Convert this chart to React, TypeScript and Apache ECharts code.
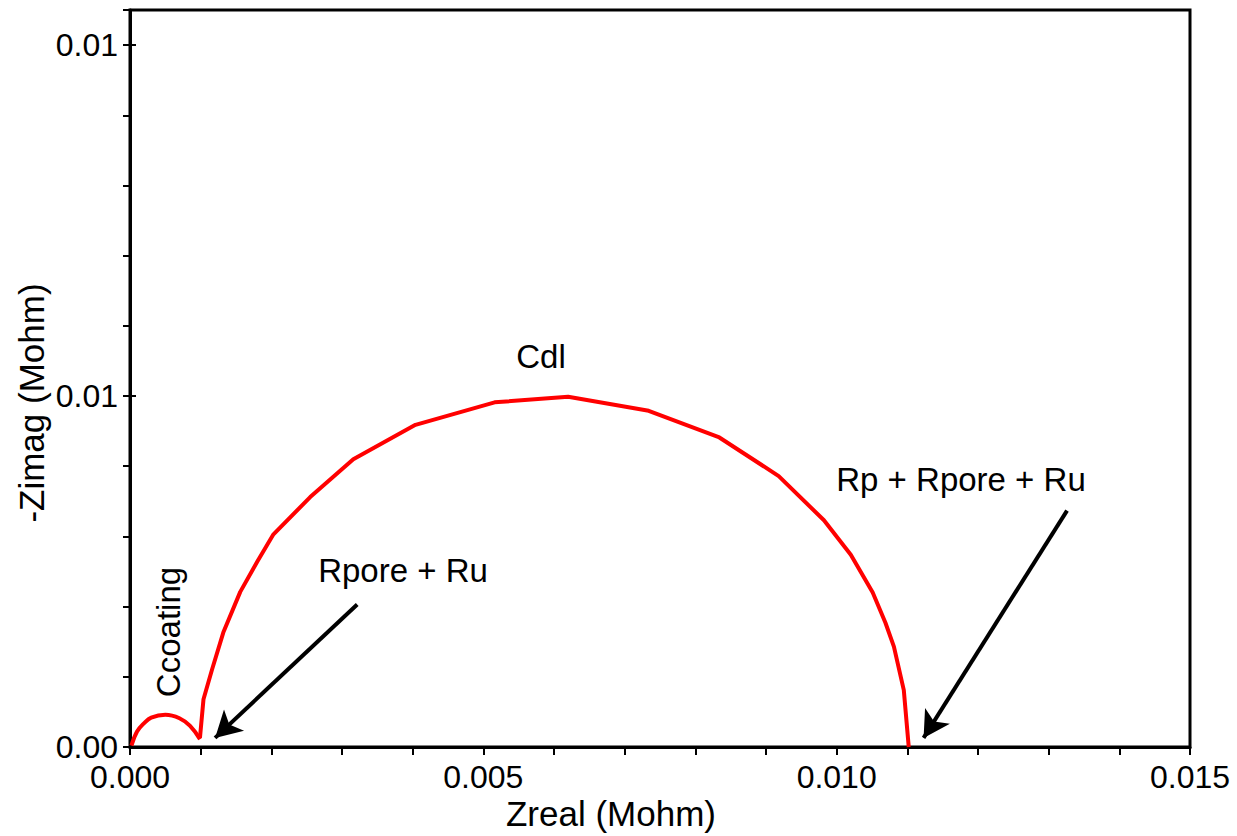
import React, { useEffect, useRef } from "react";
import * as echarts from "echarts";

// Small "Ccoating" arc
const coatZreal = [0.00002, 0.0001, 0.0002, 0.0003, 0.0005, 0.0007, 0.00085, 0.00099];
const coatZimag = [0.00002, 0.00022, 0.00034, 0.00042, 0.00046, 0.00041, 0.0003, 0.00011];

// Large "Cdl" arc
const cdlZreal = [0.00099, 0.00104, 0.00116, 0.00132, 0.00156, 0.0018, 0.00203, 0.00255, 0.00316, 0.00404, 0.00516, 0.0062, 0.00734, 0.00834, 0.00918, 0.00982, 0.0102, 0.01051, 0.01069, 0.01081, 0.01095, 0.01102];
const cdlZimag = [0.00013, 0.00068, 0.0011, 0.00163, 0.00221, 0.00264, 0.00303, 0.00356, 0.0041, 0.00459, 0.00491, 0.00499, 0.00479, 0.00441, 0.00386, 0.00323, 0.00274, 0.0022, 0.00177, 0.00143, 0.00081, 0.0];

// Arrows: [startX, startY, tipX, tipY] in data units
const arrowPoreRu = [0.003215, 0.00203, 0.001204, 0.00013];
const arrowRpPoreRu = [0.01326, 0.003367, 0.01123, 0.00013];

const xMin = 0;
const xMax = 0.015;
const xInterval = 0.005;
const yMin = 0;
const yMax = 0.0105;
const yInterval = 0.005;
const yMinorInterval = 0.001;

const FONT = "Liberation Sans, Arial, sans-serif";

export default function App() {
  const ref = useRef<HTMLDivElement>(null);
  useEffect(() => {
    if (!ref.current) return;
    const chart = echarts.init(ref.current, null, { renderer: "svg" });
    const pair = (xs: number[], ys: number[]) => xs.map((x, i) => [x, ys[i]]);
    const arrowLine = (a: number[]) => [{ coord: [a[0], a[1]] }, { coord: [a[2], a[3]] }];
    const textBase = { fill: "#000", font: `33px ${FONT}`, textAlign: "center", textVerticalAlign: "middle" };
    const titleBase = { ...textBase, font: `35px ${FONT}` };

    chart.setOption({
      animation: false,
      backgroundColor: "#fff",
      grid: { left: 130, right: 47, top: 10, bottom: 89, show: true, borderColor: "#000", borderWidth: 3, backgroundColor: "transparent" },
      xAxis: {
        type: "value",
        min: xMin,
        max: xMax,
        interval: xInterval,
        axisLine: { show: true, lineStyle: { color: "#000", width: 3 } },
        axisTick: { show: true, inside: false, length: 8, lineStyle: { color: "#000", width: 2 } },
        minorTick: { show: true, splitNumber: 5, length: 8, lineStyle: { color: "#000", width: 2 } },
        splitLine: { show: false },
        minorSplitLine: { show: false },
        axisLabel: { color: "#000", fontSize: 32, fontFamily: FONT, margin: 14, formatter: (v: number) => v.toFixed(3) },
      },
      yAxis: [
        {
          type: "value",
          position: "left",
          min: yMin,
          max: yMax,
          interval: yInterval,
          axisLine: { show: true, lineStyle: { color: "#000", width: 3 } },
          axisTick: { show: true, inside: true, length: 6, lineStyle: { color: "#000", width: 2 } },
          splitLine: { show: false },
          axisLabel: {
            color: "#000",
            fontSize: 32,
            fontFamily: FONT,
            margin: 12,
            showMaxLabel: false,
            formatter: (v: number) => (Math.abs(v / yInterval - Math.round(v / yInterval)) < 1e-6 ? v.toFixed(2) : ""),
          },
        },
        {
          type: "value",
          position: "left",
          min: yMin,
          max: yMax,
          interval: yMinorInterval,
          axisLine: { show: false },
          axisTick: { show: true, inside: false, length: 7, lineStyle: { color: "#000", width: 2 } },
          splitLine: { show: false },
          axisLabel: { show: false },
        },
      ],
      series: [
        {
          type: "line",
          data: pair(coatZreal, coatZimag),
          smooth: 0.4,
          showSymbol: false,
          lineStyle: { color: "#ff0000", width: 4 },
          itemStyle: { color: "#ff0000" },
          markLine: {
            silent: true,
            symbol: ["none", "arrow"],
            symbolSize: [22, 26],
            label: { show: false },
            lineStyle: { color: "#000", width: 4, type: "solid" },
            data: [arrowLine(arrowPoreRu), arrowLine(arrowRpPoreRu)],
          },
        },
        {
          type: "line",
          data: pair(cdlZreal, cdlZimag),
          smooth: false,
          showSymbol: false,
          lineStyle: { color: "#ff0000", width: 4 },
          itemStyle: { color: "#ff0000" },
        },
      ],
      graphic: [
        { type: "text", x: 541, y: 356, style: { ...textBase, text: "Cdl" } },
        { type: "text", x: 403, y: 570, style: { ...textBase, text: "Rpore + Ru" } },
        { type: "text", x: 961, y: 479, style: { ...textBase, text: "Rp + Rpore + Ru" } },
        { type: "text", x: 168, y: 632, rotation: Math.PI / 2, style: { ...textBase, text: "Ccoating" } },
        { type: "text", x: 611, y: 813, style: { ...titleBase, text: "Zreal (Mohm)" } },
        { type: "text", x: 31, y: 403, rotation: Math.PI / 2, style: { ...titleBase, text: "-Zimag (Mohm)" } },
      ],
    });
    return () => chart.dispose();
  }, []);
  return <div ref={ref} style={{ position: "fixed", left: 0, top: 0, width: 1237, height: 836 }} />;
}
